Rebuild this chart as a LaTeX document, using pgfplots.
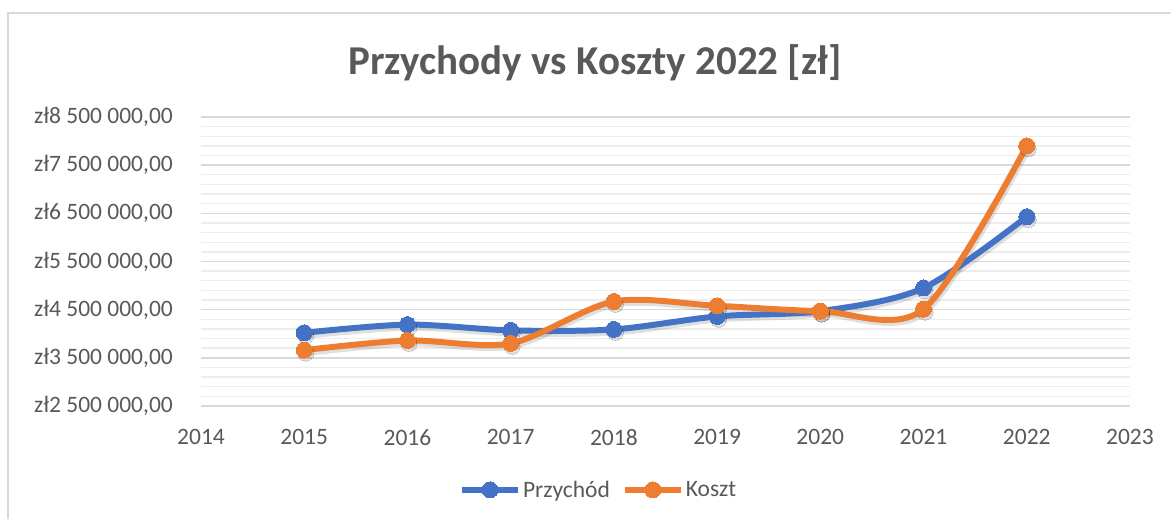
\documentclass[border=0pt]{standalone}
\usepackage{pgfplots}
\pgfplotsset{compat=1.18}
\usepackage{fontspec}
\setmainfont{Carlito}

\definecolor{exblue}{HTML}{4472C4}
\definecolor{exorange}{HTML}{ED7D31}
\definecolor{extext}{HTML}{595959}
\definecolor{gridmaj}{HTML}{D9D9D9}
\definecolor{gridmin}{HTML}{EDEDED}

\pgfplotstableread{
year przychod koszt
2015 4020000 3660000
2016 4190000 3860000
2017 4070000 3800000
2018 4090000 4670000
2019 4360000 4580000
2020 4470000 4470000
2021 4950000 4510000
2022 6430000 7900000
}\finanse

\begin{document}
\begin{tikzpicture}
\useasboundingbox (0,0) rectangle (1171pt,519pt);
% chart frame (only top and left visible)
\draw[gray!30, line width=1.5pt] (8pt,0) -- (8pt,506pt) -- (1175pt,506pt);

\node[text=extext, font=\fontsize{41}{48}\selectfont\bfseries] at (595pt,456pt) {Przychody vs Koszty 2022 [zł]};

\begin{axis}[
   scale only axis,
   width=929pt, height=289pt,
   at={(201pt,113pt)}, anchor=south west,
   xmin=2014, xmax=2023,
   ymin=2500000, ymax=8500000,
   xtick={2014,2015,...,2023},
   ytick={2500000,3500000,...,8500000},
   yticklabels={{zł2 500 000,00},{zł3 500 000,00},{zł4 500 000,00},{zł5 500 000,00},{zł6 500 000,00},{zł7 500 000,00},{zł8 500 000,00}},
   scaled y ticks=false,
   minor y tick num=4,
   ymajorgrids, yminorgrids,
   major grid style={gridmaj, line width=1.6pt},
   minor grid style={gridmin, line width=1.4pt},
   axis line style={draw=none},
   major tick length=0pt, minor tick length=0pt,
   /pgf/number format/1000 sep={},
   /pgf/number format/assume math mode=true,
   tick label style={text=extext, font=\fontsize{23.5}{28}\selectfont},
   yticklabel style={anchor=east, inner sep=0pt, xshift=-28pt},
   xticklabel style={anchor=north, inner sep=0pt, yshift=-23pt},
   clip=false,
   legend columns=2,
   legend style={at={(0.428,-0.29)}, anchor=center, draw=none, fill=none,
      font=\fontsize{23.5}{28}\selectfont, text=extext,
      /tikz/every even column/.append style={column sep=10pt}},
   legend cell align=left,
   legend image code/.code={
      \draw[#1, mark repeat=2, mark phase=2] plot coordinates {(0pt,0pt) (28pt,0pt) (56pt,0pt)};},
]
% soft drop shadows
\addplot[black, opacity=0.12, line width=6pt, smooth, mark=*, mark size=8pt,
   mark options={line width=0pt}, forget plot, xshift=1.5pt, yshift=-3pt]
   table[x=year, y=przychod] {\finanse};
\addplot[black, opacity=0.12, line width=6pt, smooth, mark=*, mark size=8pt,
   mark options={line width=0pt}, forget plot, xshift=1.5pt, yshift=-3pt]
   table[x=year, y=koszt] {\finanse};
\addplot[exblue, line width=6pt, smooth, mark=*, mark size=8pt, mark options={line width=0pt}]
   table[x=year, y=przychod] {\finanse};
\addplot[exorange, line width=6pt, smooth, mark=*, mark size=8pt, mark options={line width=0pt}]
   table[x=year, y=koszt] {\finanse};
\legend{Przychód, Koszt}
\end{axis}
\end{tikzpicture}
\end{document}
